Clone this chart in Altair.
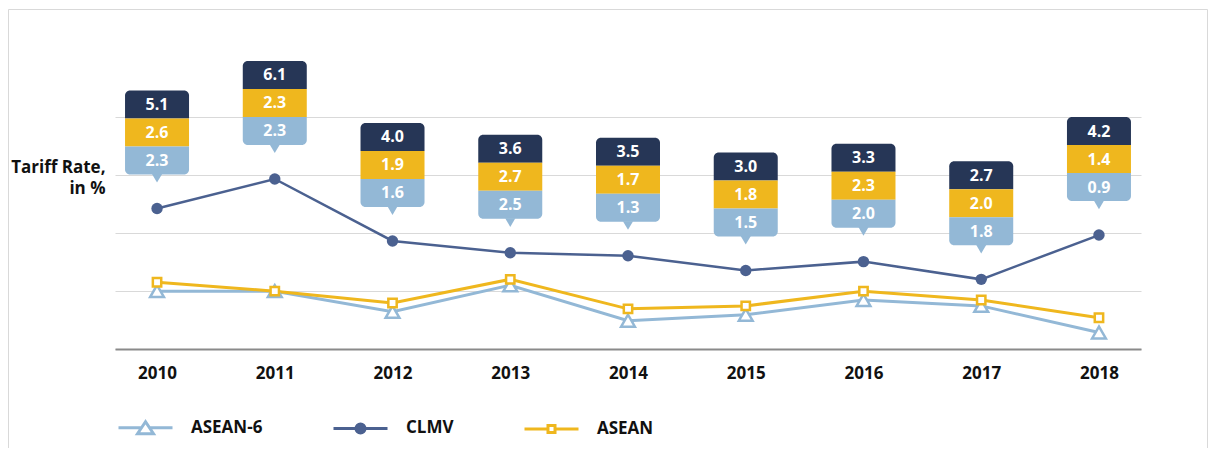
import altair as alt
import pandas as pd

# ---------------- data ----------------
YEARS = ["2010", "2011", "2012", "2013", "2014", "2015", "2016", "2017", "2018"]
ASEAN6 = [2.3, 2.3, 1.6, 2.5, 1.3, 1.5, 2.0, 1.8, 0.9]
CLMV = [5.1, 6.1, 4.0, 3.6, 3.5, 3.0, 3.3, 2.7, 4.2]
ASEAN = [2.6, 2.3, 1.9, 2.7, 1.7, 1.8, 2.3, 2.0, 1.4]
SERIES = ["ASEAN-6", "CLMV", "ASEAN"]
Y_TITLE = ["Tariff Rate,", "in %"]

# ---------------- style ----------------
C_A6 = "#93B8D6"
C_CLMV = "#4B6190"
C_BOX = "#263656"
C_ASEAN = "#EFB71E"
C_TEXT = "#111111"
FONT = "Open Sans"

Y_MIN, Y_MAX = 0.34, 8.2
GRID = [Y_MIN + (Y_MAX - Y_MIN) * k / 4 for k in range(5)]

wide = pd.DataFrame({"year": YEARS, "asean6": ASEAN6, "clmv": CLMV, "asean": ASEAN})

x_axis = alt.Axis(
    title=None, labelAngle=0, labelFont=FONT, labelFontWeight="bold",
    labelFontSize=17, labelColor=C_TEXT, labelBaseline="alphabetic",
    labelPadding=29, ticks=False, tickSize=0, domainColor="#8a8a8a",
    domainWidth=2, grid=False,
)
y_axis = alt.Axis(
    values=GRID, labels=False, ticks=False, domain=False, grid=True,
    gridColor="#d9d9d9", gridWidth=1, title=Y_TITLE, titleAngle=0,
    titleAlign="right", titleBaseline="middle", titleX=-10, titleY=50,
    titleFont=FONT, titleFontWeight="bold", titleFontSize=17,
    titleLineHeight=21, titleColor=C_TEXT,
)
x_scale = alt.Scale(type="point", padding=0.357)
y_scale = alt.Scale(domain=[Y_MIN, Y_MAX], nice=False, zero=False)


def X():
    return alt.X("year:O", scale=x_scale, axis=x_axis, sort=YEARS)


def Y(field):
    return alt.Y(f"{field}:Q", scale=y_scale, axis=y_axis)


base = alt.Chart(wide)

# frame around the whole figure
frame = alt.Chart(alt.Data(values=[{"f": 1}])).mark_rect(
    fill="transparent", stroke="#d9d9d9", strokeWidth=1
).encode(
    x=alt.value(-106.5), x2=alt.value(1092.5),
    y=alt.value(-107.5), y2=alt.value(600),
)

line_a6 = base.mark_line(color=C_A6, strokeWidth=3).encode(x=X(), y=Y("asean6"))
line_as = base.mark_line(color=C_ASEAN, strokeWidth=3).encode(x=X(), y=Y("asean"))
line_cl = base.mark_line(color=C_CLMV, strokeWidth=2.5).encode(x=X(), y=Y("clmv"))

pts_a6 = base.mark_point(
    shape="triangle-up", size=190, filled=False, fill="white",
    stroke=C_A6, strokeWidth=2.5, opacity=1,
).encode(x=X(), y=Y("asean6"))
pts_as = base.mark_point(
    shape="square", size=70, filled=False, fill="white",
    stroke=C_ASEAN, strokeWidth=2.5, opacity=1,
).encode(x=X(), y=Y("asean"))
pts_cl = base.mark_point(
    shape="circle", size=130, filled=True, color=C_CLMV, opacity=1,
).encode(x=X(), y=Y("clmv"))

# callout boxes above CLMV points
BOX_TOP = -118
ROW_H = 28
BOX_W = 64
R = 5
rows = [("clmv", C_BOX), ("asean", C_ASEAN), ("asean6", C_A6)]
callouts = []
for k, (field, col) in enumerate(rows):
    corner = {}
    if k == 0:
        corner = dict(cornerRadiusTopLeft=R, cornerRadiusTopRight=R)
    elif k == len(rows) - 1:
        corner = dict(cornerRadiusBottomLeft=R, cornerRadiusBottomRight=R)
    callouts.append(
        base.mark_bar(
            width=BOX_W, color=col, opacity=1,
            yOffset=BOX_TOP + ROW_H * k, y2Offset=BOX_TOP + ROW_H * (k + 1),
            **corner,
        ).encode(x=X(), y=Y("clmv"), y2=alt.Y2("clmv"))
    )
    callouts.append(
        base.mark_text(
            font=FONT, fontWeight="bold", fontSize=16, color="white",
            baseline="middle", align="center",
            dy=BOX_TOP + ROW_H * (k + 0.5) + 0.5,
        ).encode(x=X(), y=Y("clmv"), text=alt.Text(f"{field}:Q", format=".1f"))
    )
pointer = base.mark_point(
    shape="M-0.85,-0.1L0.85,-0.1L0,1.35Z", size=144, filled=True,
    color=C_A6, opacity=1, strokeWidth=0,
    yOffset=BOX_TOP + ROW_H * len(rows),
).encode(x=X(), y=Y("clmv"))

# legend (driven by an empty layer with explicit domains)
LEG_PATHS = [
    "M-1,0L-0.148,0M0.148,0L1,0M0,-0.222L-0.296,0.222L0.296,0.222Z",
    "M-1,0L1,0M-0.167,0A0.167,0.167 0 1,0 0.167,0A0.167,0.167 0 1,0 -0.167,0Z"
    "M-0.056,0A0.056,0.056 0 1,0 0.056,0A0.056,0.056 0 1,0 -0.056,0Z",
    "M-1,0L-0.13,0M0.13,0L1,0M-0.13,-0.13L0.13,-0.13L0.13,0.13L-0.13,0.13Z",
]
leg = alt.Legend(
    orient="none", legendX=2, legendY=282, direction="horizontal", title=None,
    symbolSize=2916, symbolStrokeWidth=3, labelFont=FONT,
    labelFontWeight="bold", labelFontSize=17, labelColor=C_TEXT,
    labelOffset=17, columnPadding=64, padding=0,
)
legend_layer = (
    alt.Chart(pd.DataFrame({"series": SERIES}))
    .transform_filter("false")
    .mark_point(filled=False, fill="white", strokeWidth=3, opacity=1)
    .encode(
        color=alt.Color("series:N", scale=alt.Scale(domain=SERIES, range=[C_A6, C_CLMV, C_ASEAN]), legend=leg),
        shape=alt.Shape("series:N", scale=alt.Scale(domain=SERIES, range=LEG_PATHS), legend=leg),
    )
)

chart = (
    alt.layer(
        frame, line_a6, line_as, pts_a6, pts_as, line_cl, pts_cl,
        *callouts, pointer, legend_layer,
    )
    .properties(
        width=1026, height=232,
        padding={"left": 107, "top": 109, "right": 67, "bottom": 99},
        autosize=alt.AutoSizeParams(type="none"),
        background="white",
    )
    .configure_view(stroke=None)
)

chart.save("out.html", embed_options={"renderer": "svg", "actions": False})
